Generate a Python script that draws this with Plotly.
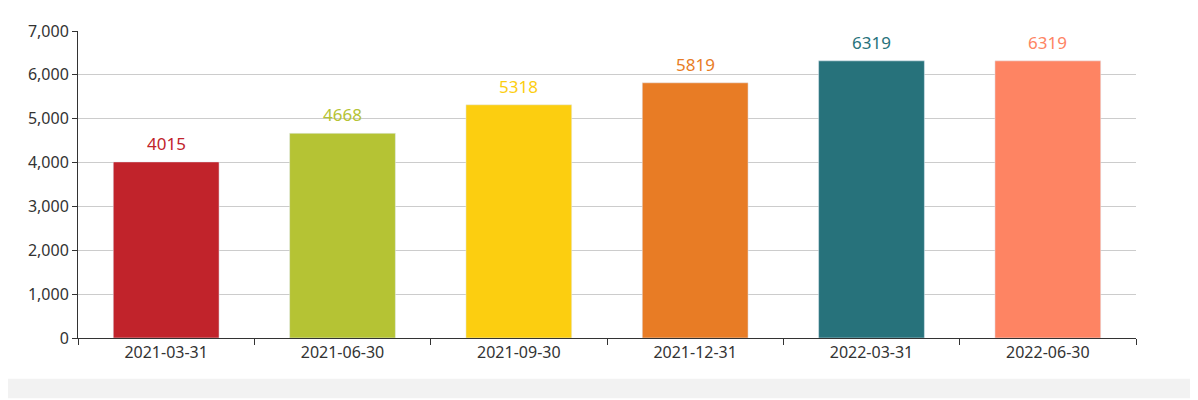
import plotly.graph_objects as go

categories = ["2021-03-31", "2021-06-30", "2021-09-30", "2021-12-31", "2022-03-31", "2022-06-30"]
values = [4015, 4668, 5318, 5819, 6319, 6319]
colors = ["#c1232b", "#b5c334", "#fcce10", "#e87c25", "#27727b", "#fe8463"]

fig = go.Figure()
fig.add_trace(go.Bar(x=categories, y=values, marker_color=colors, width=0.6))
for c, v, col in zip(categories, values, colors):
    fig.add_annotation(x=c, y=v, text=str(v), showarrow=False, yanchor="bottom",
                       yshift=5, font=dict(color=col, size=17))
W, H = 1198, 400
fig.update_layout(
    width=W, height=H, margin=dict(l=70, r=70, t=14, b=70),
    paper_bgcolor="white", plot_bgcolor="white", showlegend=False,
    font=dict(family="Noto Sans, DejaVu Sans", size=16, color="#333"),
    xaxis=dict(type="category", showline=True, linecolor="#333", ticks="outside",
               ticklen=6, tickcolor="#333", tickson="boundaries", showgrid=False),
    yaxis=dict(range=[0, 7000], dtick=1000, tickformat=",", showline=True,
               linecolor="#333", ticks="outside", ticklen=5, tickcolor="#333",
               gridcolor="#ccc", zeroline=False),
    shapes=[dict(type="rect", xref="paper", yref="paper", x0=-70/1058, x1=1+70/1058,
                 y0=-62/316, y1=-42/316, fillcolor="#f2f2f2", line_width=0, layer="below")],
)
fig.write_html("out.html")
